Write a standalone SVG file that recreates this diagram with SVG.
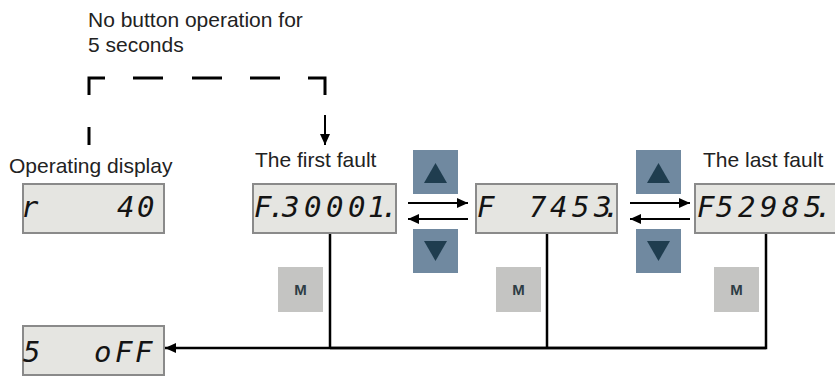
<svg xmlns="http://www.w3.org/2000/svg" width="835" height="376" viewBox="0 0 835 376">
<style>
.lbl{font-family:"Liberation Sans",Arial,sans-serif;font-size:21px;fill:#222}
.disp{fill:#e5e5e1;stroke:#8a8a8a;stroke-width:2}
.seg{font-family:"DejaVu Sans Mono",monospace;font-style:italic;font-size:29px;fill:#141414}
.btn{fill:#7089a0}
.tri{fill:#1f3d4f}
.mb{fill:#c4c4c2}
.mt{font-family:"Liberation Sans",Arial,sans-serif;font-size:15px;font-weight:bold;fill:#2e3d45;text-anchor:middle}
.ln{fill:none;stroke:#000;stroke-width:2}
.dash{fill:none;stroke:#000;stroke-width:3}
</style>
<defs>
<marker id="ah" markerUnits="userSpaceOnUse" markerWidth="12" markerHeight="10" refX="11" refY="5" orient="auto">
<path d="M0,0 L11,5 L0,10 Z" fill="#000"/>
</marker>
</defs>
<rect width="835" height="376" fill="#fff"/>
<g id="note">
<text class="lbl" x="88" y="27">No button operation for</text>
<text class="lbl" x="88" y="52">5 seconds</text>
</g>
<g id="connectors">
<path class="dash" d="M89,145 V127 M89,95 V78 H105 M133,78 H163 M192,78 H222 M250,78 H280 M308,78 H325 V95"/>
<path class="ln" d="M325,115 V145" marker-end="url(#ah)"/>
<path class="ln" d="M408,203 H468" marker-end="url(#ah)"/>
<path class="ln" d="M468,219 H408" marker-end="url(#ah)"/>
<path class="ln" d="M630,203 H690" marker-end="url(#ah)"/>
<path class="ln" d="M690,219 H630" marker-end="url(#ah)"/>
<path class="ln" style="stroke-width:2.5" d="M330,233 V348 M547,233 V348 M766,233 V348 H330"/>
<path class="ln" style="stroke-width:2.5" d="M766,348 H165" marker-end="url(#ah)"/>
</g>
<g id="operating-display">
<text class="lbl" x="9" y="173">Operating display</text>
<rect class="disp" x="23" y="184" width="141" height="49"/>
<text class="seg" x="21 117 137" y="217">r40</text>
</g>
<g id="first-fault">
<text class="lbl" x="255" y="167">The first fault</text>
<rect class="disp" x="253" y="184" width="143" height="49"/>
<text class="seg" x="254 268 282 304 326 348 368 381" y="217">F.30001.</text>
</g>
<g id="second-fault">
<rect class="disp" x="476" y="184" width="141" height="49"/>
<text class="seg" x="477 529 550 572 594 603" y="217">F7453.</text>
</g>
<g id="last-fault">
<text class="lbl" x="703" y="167">The last fault</text>
<rect class="disp" x="695" y="184" width="142" height="49"/>
<text class="seg" x="697 716 738 760 782 804 815" y="217">F52985.</text>
</g>
<g id="servo-off">
<rect class="disp" x="23" y="326" width="141" height="49"/>
<text class="seg" x="23 94 115 135" y="362">5oFF</text>
</g>
<g id="up-button-1">
<rect class="btn" x="413" y="150" width="45" height="44"/>
<path class="tri" d="M435.5,163 L447,183 L424,183 Z"/>
</g>
<g id="down-button-1">
<rect class="btn" x="413" y="229" width="45" height="44"/>
<path class="tri" d="M424,241 L447,241 L435.5,261 Z"/>
</g>
<g id="up-button-2">
<rect class="btn" x="636" y="150" width="45" height="44"/>
<path class="tri" d="M658.5,163 L670,183 L647,183 Z"/>
</g>
<g id="down-button-2">
<rect class="btn" x="636" y="229" width="45" height="44"/>
<path class="tri" d="M647,241 L670,241 L658.5,261 Z"/>
</g>
<g id="m-button-1">
<rect class="mb" x="278" y="267" width="45" height="45"/>
<text class="mt" x="300.5" y="295">M</text>
</g>
<g id="m-button-2">
<rect class="mb" x="496" y="267" width="45" height="45"/>
<text class="mt" x="518.5" y="295">M</text>
</g>
<g id="m-button-3">
<rect class="mb" x="714" y="267" width="45" height="45"/>
<text class="mt" x="736.5" y="295">M</text>
</g>
</svg>
